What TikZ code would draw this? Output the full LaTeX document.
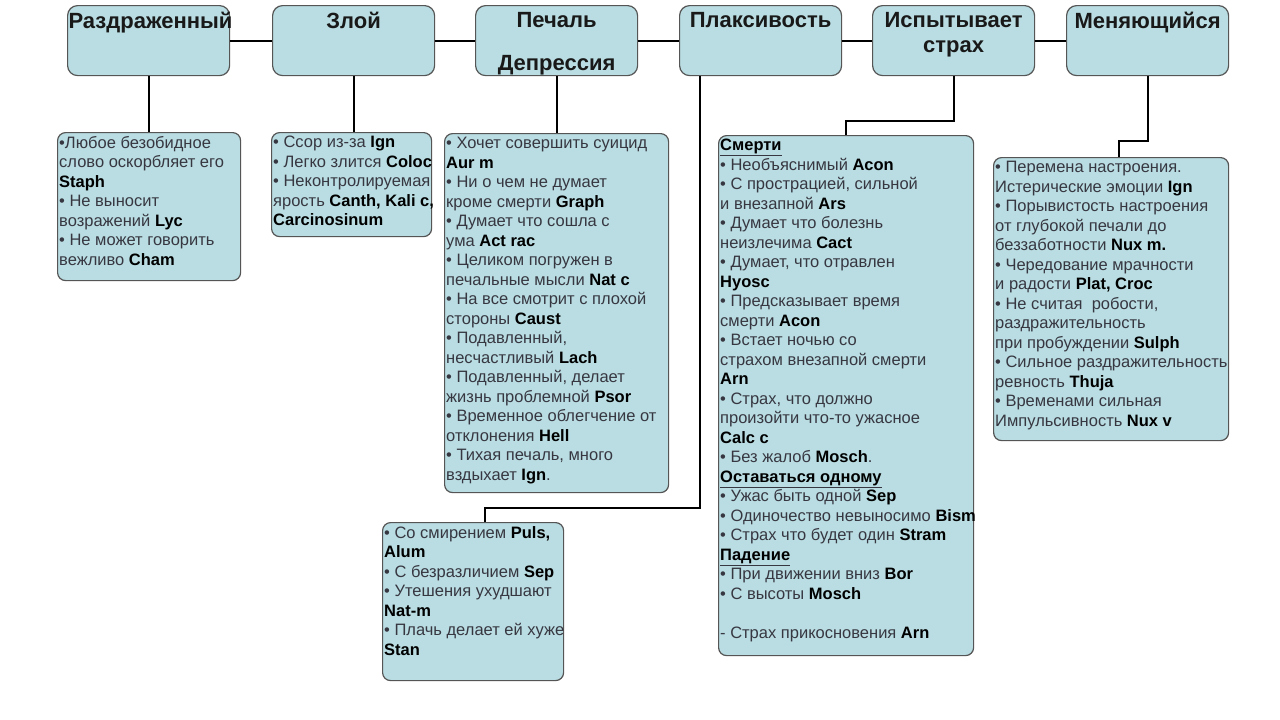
\documentclass[tikz,border=0pt]{standalone}
\usepackage{fontspec}
\setmainfont{Liberation Sans}
\usetikzlibrary{shapes, positioning}
\definecolor{boxfill}{RGB}{185,221,226}
\definecolor{boxline}{RGB}{85,85,85}
\definecolor{bodytext}{RGB}{55,55,65}
\newcommand{\remedy}[1]{\textbf{\color{black}#1}}
\newcommand{\topic}[1]{\underline{\textbf{\color{black}#1}}}
\newcommand{\headtext}[1]{\parbox[t][56pt][t]{160pt}{\centering #1}}

\begin{document}
\begin{tikzpicture}[x=1pt, y=-1pt,
        header/.style={draw=boxline, line width=1.2pt, fill=boxfill, rounded corners=10pt,
            anchor=north west, inner xsep=1pt, inner ysep=7pt, text=black!90,
            font=\fontsize{22}{25}\selectfont\bfseries},
        infobox/.style={draw=boxline, line width=1.2pt, fill=boxfill, rounded corners=8pt,
            anchor=north west},
        infotext/.style={anchor=north west, align=left, inner xsep=2pt, inner ysep=4pt,
            text=bodytext, font=\fontsize{16.5}{19.5}\selectfont},
        link/.style={line width=2.2pt, black},
    ]
    \useasboundingbox[fill=white] (0,0) rectangle (1280,720);

    % header row
    \node[header] (irrit) at (67,5) {\headtext{Раздраженный}};
    \node[header] (angry) at (272,5) {\headtext{Злой}};
    \node[header] (sad) at (475,5) {\headtext{Печаль\\[18pt]Депрессия}};
    \node[header] (tearful) at (679,5) {\headtext{Плаксивость}};
    \node[header] (fear) at (872,5) {\headtext{Испытывает\\страх}};
    \node[header] (change) at (1066,5) {\headtext{Меняющийся}};

    % boxes
    \node[infobox, minimum width=183pt, minimum height=148pt] (irritbox) at (57,132) {};
    \node[infotext] (irrittext) at (irritbox.north west) {%
        •Любое безобидное\\
        слово оскорбляет его\\
        \remedy{Staph}\\
        • Не выносит\\
        возражений \remedy{Lyc}\\
        • Не может говорить\\
        вежливо \remedy{Cham}};

    \node[infobox, minimum width=160pt, minimum height=104pt] (angrybox) at (271,132) {};
    \node[infotext] (angrytext) at (angrybox.north west) {%
        • Ссор из-за \remedy{Ign}\\
        • Легко злится \remedy{Coloc}\\
        • Неконтролируемая\\
        ярость \remedy{Canth, Kali c,}\\
        \remedy{Carcinosinum}};

    \node[infobox, minimum width=224pt, minimum height=359pt] (sadbox) at (444,133) {};
    \node[infotext] (sadtext) at (sadbox.north west) {%
        • Хочет совершить суицид\\
        \remedy{Aur m}\\
        • Ни о чем не думает\\
        кроме смерти \remedy{Graph}\\
        • Думает что сошла с\\
        ума \remedy{Act rac}\\
        • Целиком погружен в\\
        печальные мысли \remedy{Nat c}\\
        • На все смотрит с плохой\\
        стороны \remedy{Caust}\\
        • Подавленный,\\
        несчастливый \remedy{Lach}\\
        • Подавленный, делает\\
        жизнь проблемной \remedy{Psor}\\
        • Временное облегчение от\\
        отклонения \remedy{Hell}\\
        • Тихая печаль, много\\
        вздыхает \remedy{Ign}.};

    \node[infobox, minimum width=181pt, minimum height=158pt] (tearbox) at (382,522) {};
    \node[infotext] (teartext) at (tearbox.north west) {%
        • Со смирением \remedy{Puls,}\\
        \remedy{Alum}\\
        • С безразличием \remedy{Sep}\\
        • Утешения ухудшают\\
        \remedy{Nat-m}\\
        • Плачь делает ей хуже\\
        \remedy{Stan}};

    \node[infobox, minimum width=255pt, minimum height=520pt] (fearbox) at (718,135) {};
    \node[infotext] (feartext) at (fearbox.north west) {%
        \topic{Смерти}\\
        • Необъяснимый \remedy{Acon}\\
        • С прострацией, сильной\\
        и внезапной \remedy{Ars}\\
        • Думает что болезнь\\
        неизлечима \remedy{Cact}\\
        • Думает, что отравлен\\
        \remedy{Hyosc}\\
        • Предсказывает время\\
        смерти \remedy{Acon}\\
        • Встает ночью со\\
        страхом внезапной смерти\\
        \remedy{Arn}\\
        • Страх, что должно\\
        произойти что-то ужасное\\
        \remedy{Calc c}\\
        • Без жалоб \remedy{Mosch}.\\
        \topic{Оставаться одному}\\
        • Ужас быть одной \remedy{Sep}\\
        • Одиночество невыносимо \remedy{Bism}\\
        • Страх что будет один \remedy{Stram}\\
        \topic{Падение}\\
        • При движении вниз \remedy{Bor}\\
        • С высоты \remedy{Mosch}\\[19.5pt]
        - Страх прикосновения \remedy{Arn}};

    \node[infobox, minimum width=235pt, minimum height=283pt] (changebox) at (993,157) {};
    \node[infotext] (changetext) at (changebox.north west) {%
        • Перемена настроения.\\
        Истерические эмоции \remedy{Ign}\\
        • Порывистость настроения\\
        от глубокой печали до\\
        беззаботности \remedy{Nux m.}\\
        • Чередование мрачности\\
        и радости \remedy{Plat, Croc}\\
        • Не считая\ \ робости,\\
        раздражительность\\
        при пробуждении \remedy{Sulph}\\
        • Сильное раздражительность\\
        ревность \remedy{Thuja}\\
        • Временами сильная\\
        Импульсивность \remedy{Nux v}};

    % links
    \draw[link] (irrit) -- (angry);
    \draw[link] (angry) -- (sad);
    \draw[link] (sad) -- (tearful);
    \draw[link] (tearful) -- (fear);
    \draw[link] (fear) -- (change);

    \draw[link] (irrit.south) -- (irrit.south |- irritbox.north);
    \draw[link] (angry.south) -- (angry.south |- angrybox.north);
    \draw[link] (sad.south) -- (sad.south |- sadbox.north);
    \coordinate (teardrop) at (485,508);
    \draw[link] ([xshift=21pt]tearful.south west) |- (teardrop) -- (teardrop |- tearbox.north);
    \draw[link] (fear.south) -- ++(0,45) -| (fearbox.north);
    \draw[link] (change.south) -- ++(0,65) -| ([xshift=8pt]changebox.north);
\end{tikzpicture}
\end{document}
